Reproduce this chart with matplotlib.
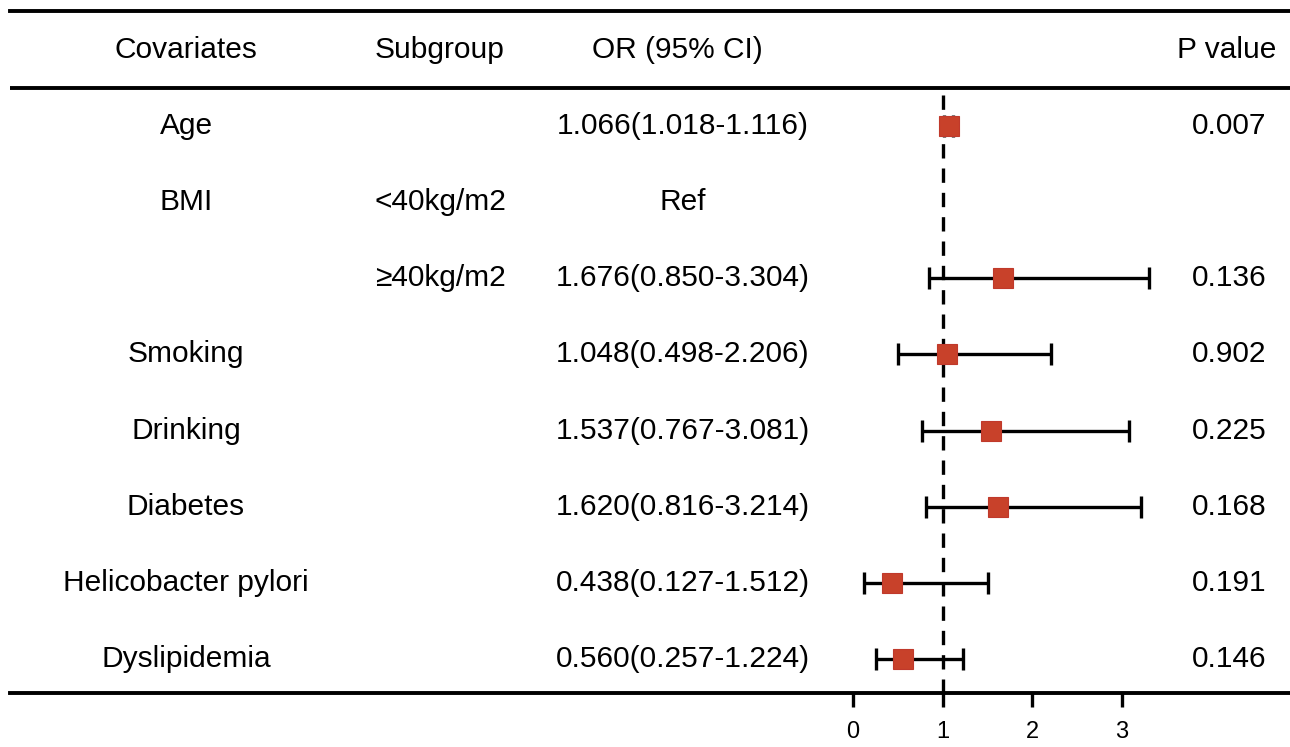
import numpy as np
import matplotlib
matplotlib.use("Agg")
import matplotlib.pyplot as plt
from matplotlib.transforms import blended_transform_factory

plt.rcParams['font.family'] = ['Liberation Sans', 'DejaVu Sans']

# table data
covariates = ["Age", "BMI", "", "Smoking", "Drinking", "Diabetes",
              "Helicobacter pylori", "Dyslipidemia"]
subgroups = ["", "<40kg/m2", "\u226540kg/m2", "", "", "", "", ""]
or_vals = [1.066, np.nan, 1.676, 1.048, 1.537, 1.620, 0.438, 0.560]
ci_low = [1.018, np.nan, 0.850, 0.498, 0.767, 0.816, 0.127, 0.257]
ci_high = [1.116, np.nan, 3.304, 2.206, 3.081, 3.214, 1.512, 1.224]
p_values = ["0.007", "", "0.136", "0.902", "0.225", "0.168", "0.191", "0.146"]
headers = ["Covariates", "Subgroup", "OR (95% CI)", "P value"]
xticks = [0, 1, 2, 3]

or_text = []
for o, l, h in zip(or_vals, ci_low, ci_high):
    if np.isnan(o):
        or_text.append("Ref")
    else:
        or_text.append("%.3f(%.3f-%.3f)" % (o, l, h))

W, H = 1290, 747
fig = plt.figure(figsize=(W / 100, H / 100), dpi=100)

# axes covers the table; x in OR units, y in row units
ax = fig.add_axes([10 / W, (H - 693) / H, 1 - 10 / W, (693 - 11) / H])
px_per_unit = 89.6
x0 = 853
ax.set_xlim((10 - x0) / px_per_unit, (W - x0) / px_per_unit)
row_gap = 76.14
ybottom = 7 + (693 - 659) / row_gap
ax.set_ylim(ybottom, -(126 - 11) / row_gap)

rows = np.arange(len(covariates))
red = "#C8412A"
lw = 2.4
rule_lw = 2.8

ax.vlines(1, -0.41, ybottom, colors="black", linewidth=lw,
          linestyles=(0, (4.3, 3.0)), zorder=1)

o = np.array(or_vals)
lo = np.array(ci_low)
hi = np.array(ci_high)
ax.errorbar(o, rows, xerr=[o - lo, hi - o], fmt="none", ecolor="black",
            elinewidth=lw, capsize=8, capthick=lw, zorder=2)
ax.plot(o, rows, "s", color=red, markersize=14, markeredgecolor="#C0392B",
        markeredgewidth=0.8, zorder=3)

ax.axhline(-0.5, color="black", linewidth=rule_lw)

for side in ["left", "right"]:
    ax.spines[side].set_visible(False)
ax.spines["top"].set_linewidth(rule_lw)
ax.spines["bottom"].set_linewidth(rule_lw)
ax.set_yticks([])
ax.set_xticks(xticks)
ax.tick_params(axis="x", direction="out", length=10, width=lw, labelsize=17, pad=10)

trans = blended_transform_factory(fig.transFigure, ax.transData)
fs = 21.5
header_x = [186, 440, 677, 1227]
for hx, txt in zip(header_x, headers):
    ax.text(hx / W, -1, txt, transform=trans, ha="center", va="center", fontsize=fs)

for i in rows:
    ax.text(186 / W, i, covariates[i], transform=trans, ha="center", va="center", fontsize=fs)
    ax.text(440 / W, i, subgroups[i], transform=trans, ha="center", va="center", fontsize=fs)
    ax.text(683 / W, i, or_text[i], transform=trans, ha="center", va="center", fontsize=fs)
    ax.text(1229 / W, i, p_values[i], transform=trans, ha="center", va="center", fontsize=fs)

fig.savefig("out.png", dpi=100)
